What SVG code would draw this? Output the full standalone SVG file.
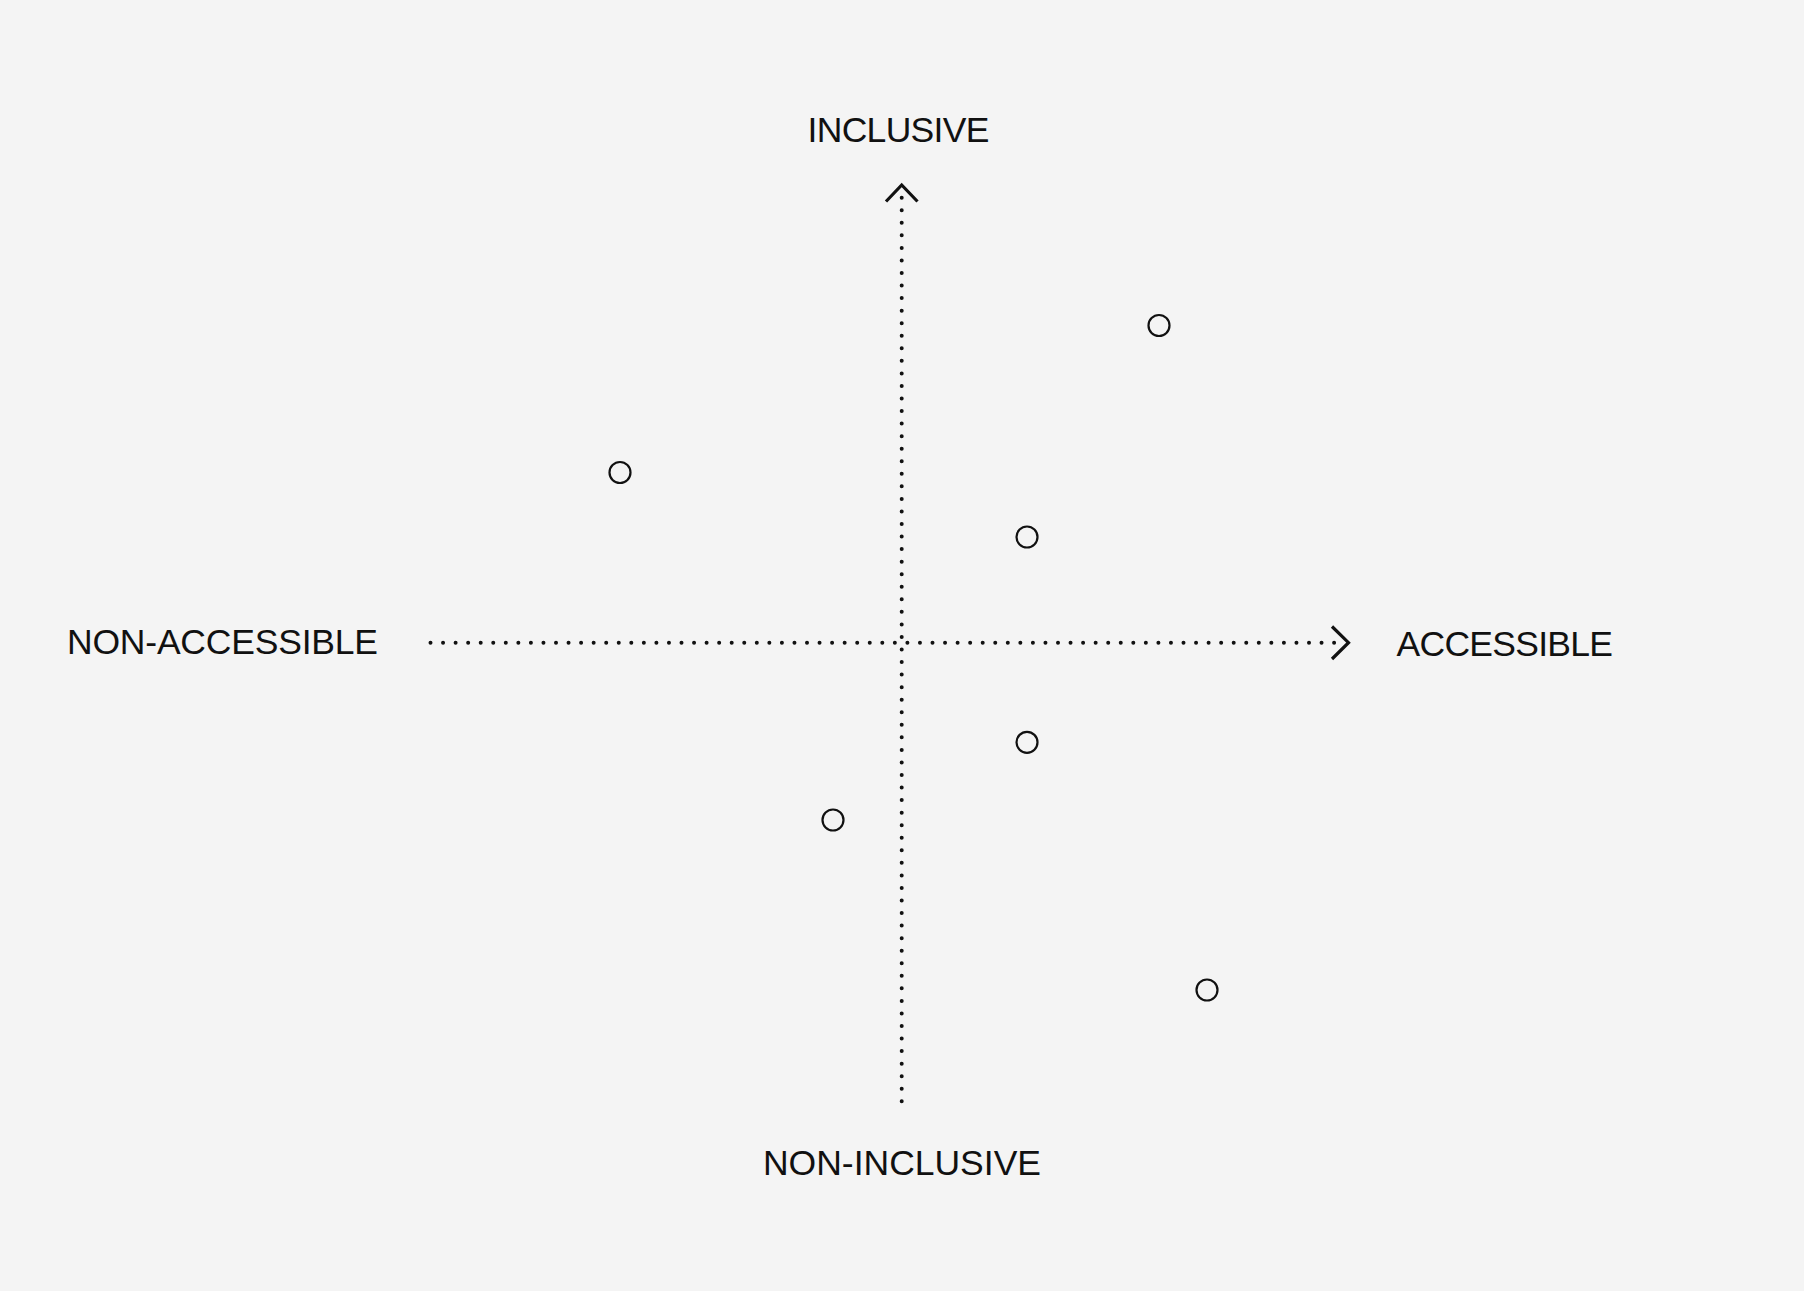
<svg xmlns="http://www.w3.org/2000/svg" width="1804" height="1291" viewBox="0 0 1804 1291">
  <defs>
    <style>
      .lbl { font-family: "Liberation Sans", Arial, sans-serif; font-size: 35.5px; fill: #111; }
      .axis { stroke: #111; stroke-width: 4; stroke-linecap: round; stroke-dasharray: 0 12.55; fill: none; }
      .head { stroke: #111; stroke-width: 3.2; fill: none; stroke-linecap: butt; stroke-linejoin: miter; }
      .pt { fill: none; stroke: #111; stroke-width: 2.2; }
    </style>
  </defs>
  <rect x="0" y="0" width="1804" height="1291" fill="#f4f4f4"/>
  <g id="connectors">
    <line class="axis" x1="901.7" y1="197.7" x2="901.7" y2="1101.5"/>
    <line class="axis" x1="430.5" y1="642.7" x2="1337" y2="642.7"/>
    <polyline class="head" points="886,201.5 901.7,185 917.5,201.5"/>
    <polyline class="head" points="1332,626.5 1348.5,642.7 1332,659"/>
  </g>
  <g id="label-inclusive"><text class="lbl" x="807.5" y="141.5" textLength="182" lengthAdjust="spacing">INCLUSIVE</text></g>
  <g id="label-non-inclusive"><text class="lbl" x="763" y="1175" textLength="278" lengthAdjust="spacing">NON-INCLUSIVE</text></g>
  <g id="label-non-accessible"><text class="lbl" x="67" y="654" textLength="311" lengthAdjust="spacing">NON-ACCESSIBLE</text></g>
  <g id="label-accessible"><text class="lbl" x="1396.5" y="655.5" textLength="216.5" lengthAdjust="spacing">ACCESSIBLE</text></g>
  <g id="point-1"><circle class="pt" cx="1159" cy="325.5" r="10.5"/></g>
  <g id="point-2"><circle class="pt" cx="620" cy="472.5" r="10.5"/></g>
  <g id="point-3"><circle class="pt" cx="1027" cy="537" r="10.5"/></g>
  <g id="point-4"><circle class="pt" cx="1027" cy="742.3" r="10.5"/></g>
  <g id="point-5"><circle class="pt" cx="833" cy="820" r="10.5"/></g>
  <g id="point-6"><circle class="pt" cx="1207" cy="990" r="10.5"/></g>
</svg>
